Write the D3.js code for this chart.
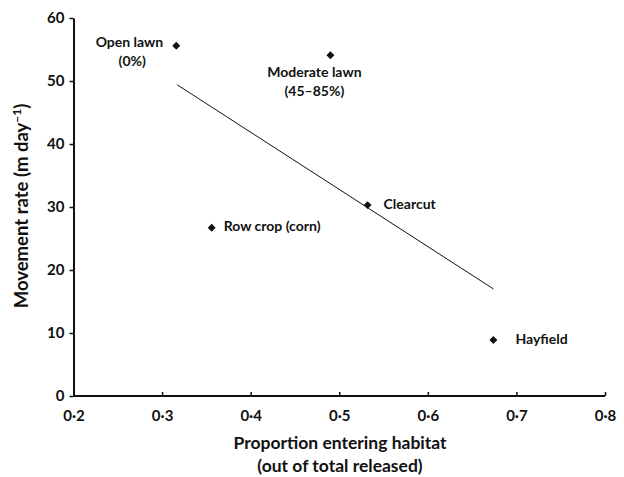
<!DOCTYPE html>
<html>
<head>
<meta charset="utf-8">
<script src="https://cdn.jsdelivr.net/npm/d3@7"></script>
<style>
body { margin: 0; background: #fff; }
svg text { font-family: Lato, "Open Sans", sans-serif; font-weight: bold; fill: #111; }
</style>
</head>
<body>
<div id="chart"></div>
<script>
// habitat points
var habitats = ["Open lawn", "Moderate lawn", "Clearcut", "Row crop (corn)", "Hayfield"];
var proportion = [0.316, 0.490, 0.532, 0.356, 0.674];
var rate = [55.6, 54.1, 30.3, 26.7, 8.9];
var subLabels = ["(0%)", "(45\u201385%)", "", "", ""];

// fitted line ends
var fitX = [0.317, 0.674];
var fitY = [49.4, 17.0];

var xTicks = [0.2, 0.3, 0.4, 0.5, 0.6, 0.7, 0.8];
var yTicks = [0, 10, 20, 30, 40, 50, 60];

var W = 624, H = 477;
var margin = {top: 18, right: 19, bottom: 81, left: 73.5};

var svg = d3.select("#chart").append("svg")
	.attr("width", W)
	.attr("height", H);

var x = d3.scaleLinear().domain([0.2, 0.8]).range([margin.left, W - margin.right]);
var y = d3.scaleLinear().domain([0, 60]).range([H - margin.bottom, margin.top]);

var fmt = function(d){ return d3.format(".1f")(d).replace(".", "\u00b7"); };

// x axis, ticks pointing up
var xAxis = svg.append("g")
	.attr("transform", "translate(0," + y(0) + ")")
	.call(d3.axisBottom(x).tickValues(xTicks).tickSize(-4).tickPadding(14).tickFormat(fmt));

// y axis, ticks pointing left
var yAxis = svg.append("g")
	.attr("transform", "translate(" + x(0.2) + ",0)")
	.call(d3.axisLeft(y).tickValues(yTicks).tickSize(4).tickPadding(5).tickSizeOuter(0));

[xAxis, yAxis].forEach(function(a){
	a.select(".domain").attr("stroke", "#111").attr("stroke-width", 2);
	a.selectAll(".tick line").attr("stroke", "#111").attr("stroke-width", 1.5);
	a.selectAll(".tick text").attr("font-size", 15).attr("fill", "#111")
		.style("font-family", "Lato, sans-serif").style("font-weight", "bold");
});
xAxis.select(".domain").attr("d", "M" + x(0.2) + ",0H" + x(0.8));

// regression line
svg.append("line")
	.attr("x1", x(fitX[0])).attr("y1", y(fitY[0]))
	.attr("x2", x(fitX[1])).attr("y2", y(fitY[1]))
	.attr("stroke", "#111").attr("stroke-width", 1);

var pts = habitats.map(function(h, i){
	return {name: h, sub: subLabels[i], x: proportion[i], y: rate[i]};
});

// diamonds
svg.selectAll(".pt")
	.data(pts)
	.enter().append("path")
	.attr("class", "pt")
	.attr("d", d3.symbol().type(d3.symbolDiamond2).size(40))
	.attr("transform", function(d){ return "translate(" + x(d.x) + "," + y(d.y) + ")"; })
	.attr("fill", "#111");

// labels: offsets relative to each point
var labelPos = [
	{dx: -13, dy: 1, anchor: "end", sdx: -44, sdy: 20},
	{dx: -16, dy: 22, anchor: "middle", sdx: -16, sdy: 41},
	{dx: 16, dy: 4, anchor: "start"},
	{dx: 12, dy: 3, anchor: "start"},
	{dx: 22, dy: 4, anchor: "start"}
];

pts.forEach(function(d, i){
	var p = labelPos[i];
	svg.append("text")
		.attr("x", x(d.x) + p.dx)
		.attr("y", y(d.y) + p.dy)
		.attr("text-anchor", p.anchor)
		.attr("font-size", 14)
		.text(d.name);
	if (d.sub) {
		svg.append("text")
			.attr("x", x(d.x) + p.sdx)
			.attr("y", y(d.y) + p.sdy)
			.attr("text-anchor", "middle")
			.attr("font-size", 14)
			.text(d.sub);
	}
});

// axis titles
svg.append("text")
	.attr("x", 340).attr("y", 449)
	.attr("text-anchor", "middle")
	.attr("font-size", 17.5)
	.text("Proportion entering habitat");
svg.append("text")
	.attr("x", 340).attr("y", 472)
	.attr("text-anchor", "middle")
	.attr("font-size", 17.5)
	.text("(out of total released)");

var yt = svg.append("text")
	.attr("transform", "translate(28," + 206 + ") rotate(-90)")
	.attr("text-anchor", "middle")
	.attr("font-size", 18.5);
yt.append("tspan").text("Movement rate (m day");
yt.append("tspan").attr("dy", -7).attr("font-size", 12).text("\u22121");
yt.append("tspan").attr("dy", 7).text(")");
</script>
</body>
</html>
